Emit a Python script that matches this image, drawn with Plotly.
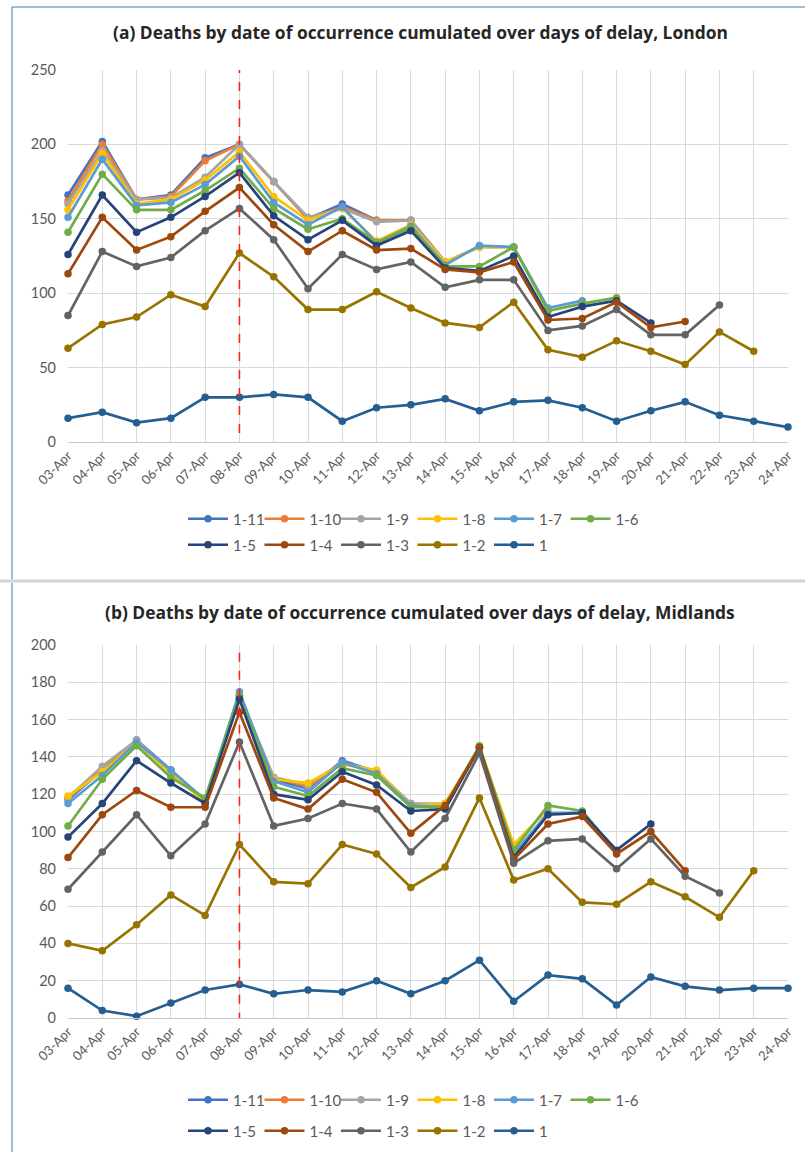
import plotly.graph_objects as go

dates = ["03-Apr", "04-Apr", "05-Apr", "06-Apr", "07-Apr", "08-Apr", "09-Apr", "10-Apr",
         "11-Apr", "12-Apr", "13-Apr", "14-Apr", "15-Apr", "16-Apr", "17-Apr", "18-Apr",
         "19-Apr", "20-Apr", "21-Apr", "22-Apr", "23-Apr", "24-Apr"]

series_names = ["1-11", "1-10", "1-9", "1-8", "1-7", "1-6", "1-5", "1-4", "1-3", "1-2", "1"]
series_colors = ["#4472C4", "#ED7D31", "#A5A5A5", "#FFC000", "#5B9BD5", "#70AD47",
                 "#264478", "#9E480E", "#636363", "#997300", "#255E91"]

N = None
# Panel (a) London
a_1_11 = [166, 202, 163, 166, 191, 200, 175, 150, 160, 149, 149, 121] + [N] * 10
a_1_10 = [162, 200, 163, 165, 189, 200, 175, 150, 158, 149, 149, 121, 131] + [N] * 9
a_1_9 = [160, 196, 163, 164, 178, 200, 175, 151, 157, 148, 149, 121, 131, 131] + [N] * 8
a_1_8 = [156, 194, 160, 163, 176, 195, 165, 149, 157, 135, 146, 121, 131, 131, 89] + [N] * 7
a_1_7 = [151, 190, 159, 161, 173, 192, 161, 146, 158, 134, 145, 119, 132, 131, 90, 95] + [N] * 6
a_1_6 = [141, 180, 156, 156, 169, 184, 157, 143, 150, 134, 144, 118, 118, 131, 88, 93, 97] + [N] * 5
a_1_5 = [126, 166, 141, 151, 165, 181, 152, 136, 149, 132, 142, 117, 115, 125, 84, 91, 95, 80] + [N] * 4
a_1_4 = [113, 151, 129, 138, 155, 171, 146, 128, 142, 129, 130, 116, 114, 121, 82, 83, 94, 77, 81] + [N] * 3
a_1_3 = [85, 128, 118, 124, 142, 157, 136, 103, 126, 116, 121, 104, 109, 109, 75, 78, 89, 72, 72, 92] + [N] * 2
a_1_2 = [63, 79, 84, 99, 91, 127, 111, 89, 89, 101, 90, 80, 77, 94, 62, 57, 68, 61, 52, 74, 61, N]
a_1 = [16, 20, 13, 16, 30, 30, 32, 30, 14, 23, 25, 29, 21, 27, 28, 23, 14, 21, 27, 18, 14, 10]

# Panel (b) Midlands
b_1_11 = [117, 133, 149, 133, 116, 172, 128, 123, 138, 132, 114, 114] + [N] * 10
b_1_10 = [118, 133, 148, 132, 116, 173, 129, 124, 137, 132, 115, 114, 145] + [N] * 9
b_1_9 = [118, 135, 149, 132, 116, 173, 129, 125, 137, 132, 115, 115, 145, 87] + [N] * 8
b_1_8 = [119, 132, 148, 131, 116, 172, 128, 126, 136, 133, 114, 115, 145, 93, 112] + [N] * 7
b_1_7 = [115, 130, 148, 133, 117, 175, 127, 121, 137, 131, 114, 113, 145, 88, 110, 110] + [N] * 6
b_1_6 = [103, 128, 146, 129, 118, 173, 124, 119, 134, 130, 113, 113, 146, 90, 114, 111, 89] + [N] * 5
b_1_5 = [97, 115, 138, 126, 115, 171, 120, 117, 132, 125, 111, 112, 145, 86, 109, 110, 90, 104] + [N] * 4
b_1_4 = [86, 109, 122, 113, 113, 164, 118, 112, 128, 121, 99, 114, 145, 85, 104, 108, 88, 100, 79] + [N] * 3
b_1_3 = [69, 89, 109, 87, 104, 148, 103, 107, 115, 112, 89, 107, 142, 83, 95, 96, 80, 96, 76, 67] + [N] * 2
b_1_2 = [40, 36, 50, 66, 55, 93, 73, 72, 93, 88, 70, 81, 118, 74, 80, 62, 61, 73, 65, 54, 79, N]
b_1 = [16, 4, 1, 8, 15, 18, 13, 15, 14, 20, 13, 20, 31, 9, 23, 21, 7, 22, 17, 15, 16, 16]

panel_a = [a_1_11, a_1_10, a_1_9, a_1_8, a_1_7, a_1_6, a_1_5, a_1_4, a_1_3, a_1_2, a_1]
panel_b = [b_1_11, b_1_10, b_1_9, b_1_8, b_1_7, b_1_6, b_1_5, b_1_4, b_1_3, b_1_2, b_1]

title_a = "(a) Deaths by date of occurrence cumulated over days of delay, London"
title_b = "(b) Deaths by date of occurrence cumulated over days of delay, Midlands"
marker_date = "08-Apr"

W, H = 805, 1152
ML, MR = 68, 17
PW = W - ML - MR


def px(x):
    return (x - ML) / PW


def py(y):
    return 1 - y / H


FONT = "Lato"
TFONT = "Open Sans"
GRAY = "#595959"

fig = go.Figure()

for i, (name, color) in enumerate(zip(series_names, series_colors)):
    leg_a = "legend" if i < 6 else "legend2"
    leg_b = "legend3" if i < 6 else "legend4"
    fig.add_trace(go.Scatter(
        x=dates, y=panel_a[i], name=name, mode="lines+markers",
        line=dict(color=color, width=2.7), marker=dict(color=color, size=7.5),
        xaxis="x", yaxis="y", legend=leg_a, cliponaxis=False, connectgaps=False))
    fig.add_trace(go.Scatter(
        x=dates, y=panel_b[i], name=name, mode="lines+markers",
        line=dict(color=color, width=2.7), marker=dict(color=color, size=7.5),
        xaxis="x2", yaxis="y2", legend=leg_b, cliponaxis=False, connectgaps=False))

xaxis_common = dict(
    type="category", range=[0, len(dates) - 1], showgrid=True, gridcolor="#d9d9d9",
    gridwidth=1, showline=True, linecolor="#c8c8c8", linewidth=1, tickangle=-45,
    tickfont=dict(family=FONT, size=13, color=GRAY), ticks="", zeroline=False,
    fixedrange=True)
yaxis_common = dict(
    showgrid=True, gridcolor="#d9d9d9", gridwidth=1, zeroline=False, ticks="",
    tickfont=dict(family=FONT, size=14.5, color=GRAY), ticklabelstandoff=11,
    showline=False)

legend_common = dict(orientation="h", xanchor="left", yanchor="middle",
                     font=dict(family=FONT, size=15, color=GRAY),
                     itemwidth=40, entrywidth=21.5, entrywidthmode="pixels",
                     bgcolor="rgba(0,0,0,0)",
                     tracegroupgap=0, itemclick=False, itemdoubleclick=False)

legx = px(183)

fig.update_layout(
    width=W, height=H,
    margin=dict(l=ML, r=MR, t=0, b=0, autoexpand=False),
    paper_bgcolor="white", plot_bgcolor="white",
    xaxis=dict(xaxis_common, domain=[0, 1], anchor="y"),
    yaxis=dict(yaxis_common, domain=[py(442), py(70)], range=[0, 250],
               tickvals=[0, 50, 100, 150, 200, 250], anchor="x"),
    xaxis2=dict(xaxis_common, domain=[0, 1], anchor="y2"),
    yaxis2=dict(yaxis_common, domain=[py(1018), py(645)], range=[0, 200],
                tickvals=[0, 20, 40, 60, 80, 100, 120, 140, 160, 180, 200], anchor="x2"),
    legend=dict(legend_common, x=legx, y=py(519)),
    legend2=dict(legend_common, x=legx, y=py(545)),
    legend3=dict(legend_common, x=legx, y=py(1100)),
    legend4=dict(legend_common, x=legx, y=py(1131)),
    showlegend=True,
)

fig.add_annotation(text="<b>" + title_a + "</b>", xref="paper", yref="paper",
                   x=px(420), y=py(32), showarrow=False, xanchor="center", yanchor="middle",
                   font=dict(family=TFONT, size=17.4, color="#262626"))
fig.add_annotation(text="<b>" + title_b + "</b>", xref="paper", yref="paper",
                   x=px(420), y=py(612), showarrow=False, xanchor="center", yanchor="middle",
                   font=dict(family=TFONT, size=17.4, color="#262626"))

# red dashed reference lines
fig.add_shape(type="line", xref="x", yref="y", x0=marker_date, x1=marker_date,
              y0=6, y1=251, line=dict(color="#FF2020", width=1.6, dash="dash"))
fig.add_shape(type="line", xref="x2", yref="y2", x0=marker_date, x1=marker_date,
              y0=-2, y1=207, line=dict(color="#FF2020", width=1.6, dash="dash"))

# panel borders
BLUE = "#4472C4"
fig.add_shape(type="line", xref="paper", yref="paper", x0=px(12), x1=px(805),
              y0=py(7), y1=py(7), line=dict(color=BLUE, width=1))
fig.add_shape(type="line", xref="paper", yref="paper", x0=px(12), x1=px(12),
              y0=py(7), y1=py(579), line=dict(color=BLUE, width=1))
fig.add_shape(type="line", xref="paper", yref="paper", x0=px(0), x1=px(805),
              y0=py(581), y1=py(581), line=dict(color="#d4d4d4", width=3))
fig.add_shape(type="line", xref="paper", yref="paper", x0=px(12), x1=px(12),
              y0=py(583), y1=py(1152), line=dict(color=BLUE, width=1))

fig.write_html("out.html", config={"displayModeBar": False},
               post_script="document.body.style.margin='0';")
